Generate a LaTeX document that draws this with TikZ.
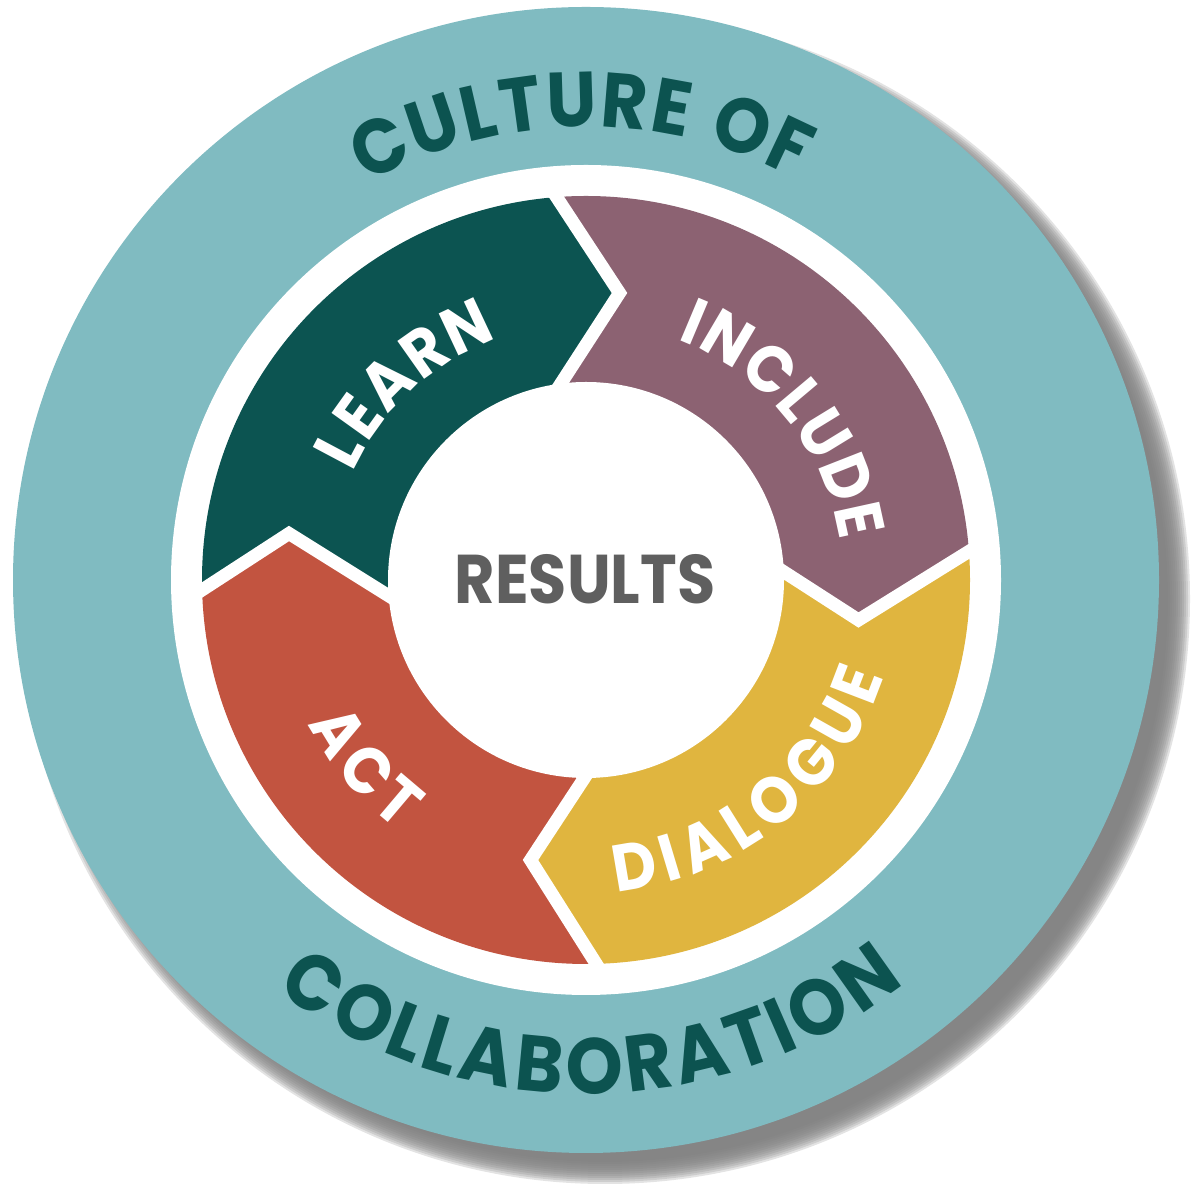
\documentclass[tikz,border=0pt]{standalone}
\usepackage{fontspec}
\newfontfamily\popfont{Poppins}
\newfontfamily\popnarrow{Poppins}[FakeStretch=0.92]
\usetikzlibrary{calc,decorations.text}
\definecolor{tealring}{HTML}{80BBC1}
\definecolor{darkteal}{HTML}{0C5350}
\definecolor{learnc}{HTML}{0C5451}
\definecolor{includec}{HTML}{8C6272}
\definecolor{dialoguec}{HTML}{E0B53F}
\definecolor{actc}{HTML}{C25440}
\definecolor{resultsc}{HTML}{5F5F5F}
\definecolor{shadowc}{HTML}{7F7F7F}
\tikzset{
  sepline/.style={white, line width=0.13cm, line join=miter},
  arctext/.style n args={3}{decorate, decoration={text along path, text align=fit to path, raise=#1, text color=#2, text={#3}}},
}
\begin{document}
\begin{tikzpicture}[x=0.01cm,y=0.01cm]
\useasboundingbox (0,0) rectangle (1198,1200);
\coordinate (C) at (586,620);
% shadow
\foreach \k in {0,...,11} {
  \fill[shadowc, opacity=0.22] ($(C)+(19,-19)$) circle ({585-2*\k});
}
% outer ring
\fill[tealring] (C) circle (573);
\fill[white] (C) circle (415);
% chevron boundary points
\coordinate (To) at (556.5,1003); \coordinate (Tt) at (619.5,907); \coordinate (Ti) at (562.5,819);
\coordinate (Ro) at (968,648);    \coordinate (Rt) at (858.5,580); \coordinate (Ri) at (782.5,629);
\coordinate (Bo) at (595,238);    \coordinate (Bt) at (530.5,340); \coordinate (Bi) at (585,423);
\coordinate (Lo) at (202,610);    \coordinate (Lt) at (289,666.5); \coordinate (Li) at (389,604);
\coordinate (Tx) at ($(To)!-0.5!(Tt)$);
\coordinate (Rx) at ($(Ro)!-0.5!(Rt)$);
\coordinate (Bx) at ($(Bo)!-0.5!(Bt)$);
\coordinate (Lx) at ($(Lo)!-0.5!(Lt)$);
\begin{scope}
  \clip (C) circle (384);
  \fill[learnc] (C) -- (Li) -- (Lt) -- (Lx) -- ($(C)+(185:750)$) -- ($(C)+(140:750)$) -- ($(C)+(98:750)$) -- (Tx) -- (Tt) -- (Ti) -- cycle;
  \fill[includec] (C) -- (Ti) -- (Tt) -- (Tx) -- ($(C)+(98:750)$) -- ($(C)+(50:750)$) -- ($(C)+(8:750)$) -- (Rx) -- (Rt) -- (Ri) -- cycle;
  \fill[dialoguec] (C) -- (Ri) -- (Rt) -- (Rx) -- ($(C)+(8:750)$) -- ($(C)+(-40:750)$) -- ($(C)+(-85:750)$) -- (Bx) -- (Bt) -- (Bi) -- cycle;
  \fill[actc] (C) -- (Bi) -- (Bt) -- (Bx) -- ($(C)+(-85:750)$) -- ($(C)+(-135:750)$) -- ($(C)+(185:750)$) -- (Lx) -- (Lt) -- (Li) -- cycle;
\end{scope}
\fill[white] (C) circle (198);
% separators
\draw[sepline] ($(Ti)!-0.3!(Tt)$) -- (Ti) -- (Tt) -- (To) -- ($(To)!-0.2!(Tt)$);
\draw[sepline] ($(Ri)!-0.3!(Rt)$) -- (Ri) -- (Rt) -- (Ro) -- ($(Ro)!-0.2!(Rt)$);
\draw[sepline] ($(Bi)!-0.3!(Bt)$) -- (Bi) -- (Bt) -- (Bo) -- ($(Bo)!-0.2!(Bt)$);
\draw[sepline] ($(Li)!-0.3!(Lt)$) -- (Li) -- (Lt) -- (Lo) -- ($(Lo)!-0.2!(Lt)$);
% outer texts
\path[arctext={-0.27cm}{darkteal}{|\popnarrow\bfseries\fontsize{22pt}{22pt}\selectfont|CULTURE OF}]
  ($(C)+(118.7:480)$) arc[start angle=118.7, end angle=62.4, radius=480];
\path[arctext={-0.28cm}{darkteal}{|\popnarrow\bfseries\fontsize{22.5pt}{22.5pt}\selectfont|COLLABORATION}]
  ($(C)+(232.7:486)$) arc[start angle=232.7, end angle=308.5, radius=486];
% segment labels
\path[arctext={-0.23cm}{white}{|\popnarrow\bfseries\fontsize{18.8pt}{18.8pt}\selectfont|LEARN}]
  ($(C)+(155:280)$) arc[start angle=155, end angle=110.5, radius=280];
\path[arctext={-0.23cm}{white}{|\popnarrow\bfseries\fontsize{18.8pt}{18.8pt}\selectfont|INCLUDE}]
  ($(C)+(69:280)$) arc[start angle=69, end angle=9, radius=280];
\path[arctext={-0.23cm}{white}{|\popnarrow\bfseries\fontsize{18.8pt}{18.8pt}\selectfont|DIALOGUE}]
  ($(C)+(275.3:290)$) arc[start angle=275.3, end angle=342.3, radius=290];
\path[arctext={-0.23cm}{white}{|\popnarrow\bfseries\fontsize{18.8pt}{18.8pt}\selectfont|ACT}]
  ($(C)+(207.1:290)$) arc[start angle=207.1, end angle=233.3, radius=290];
% centre
\node[text=resultsc, inner sep=0pt, font=\popfont\bfseries\fontsize{19.6pt}{19.6pt}\selectfont] (results) at (585,621) {\scalebox{0.9}[1]{RESULTS}};
\end{tikzpicture}
\end{document}
